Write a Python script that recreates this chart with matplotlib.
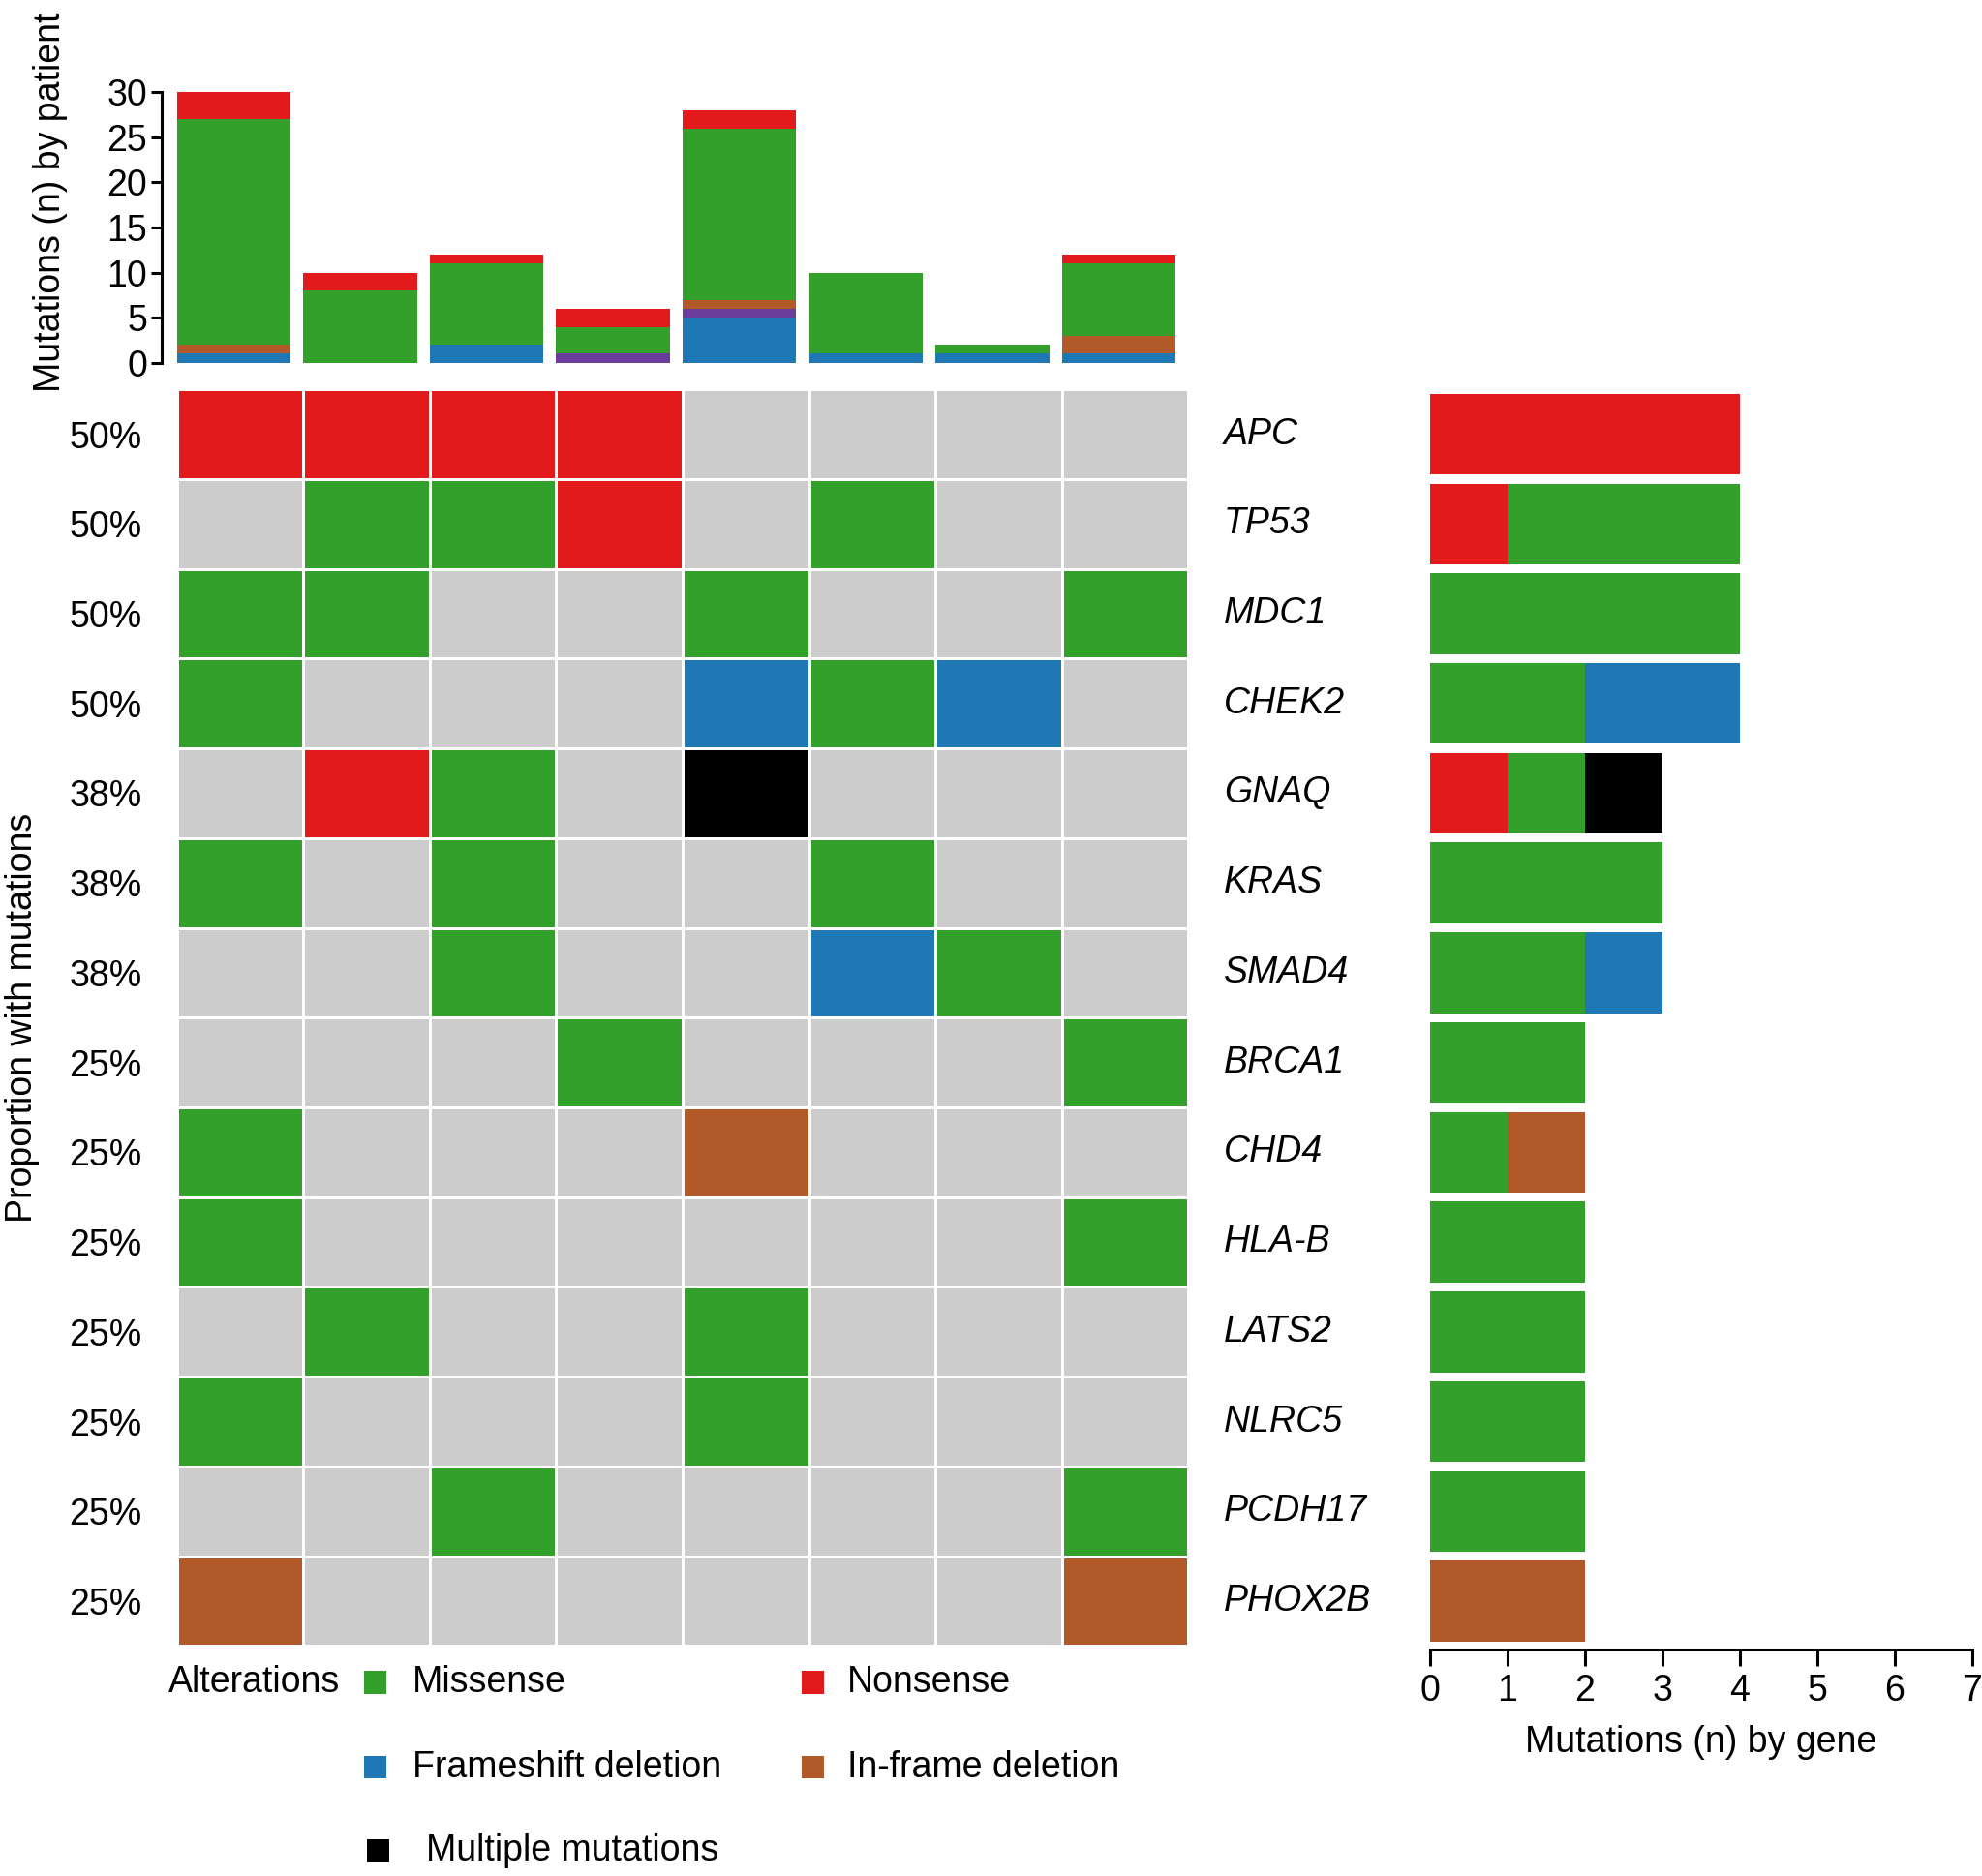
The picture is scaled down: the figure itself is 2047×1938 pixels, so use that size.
import matplotlib
matplotlib.use("Agg")
import matplotlib.pyplot as plt
import numpy as np
from matplotlib.colors import ListedColormap
from matplotlib.patches import Rectangle
import matplotlib.transforms as mtransforms

plt.rcParams['font.family'] = ['Liberation Sans', 'DejaVu Sans']
FS = 27

# ---------------- data ----------------
genes = ["APC", "TP53", "MDC1", "CHEK2", "GNAQ", "KRAS", "SMAD4", "BRCA1",
         "CHD4", "HLA-B", "LATS2", "NLRC5", "PCDH17", "PHOX2B"]
pct_labels = ["50%", "50%", "50%", "50%", "38%", "38%", "38%", "25%",
              "25%", "25%", "25%", "25%", "25%", "25%"]

# per-gene alteration per patient: M missense, N nonsense, F frameshift del,
# I in-frame del, X multiple mutations, '' none
grid = [
    ["N", "N", "N", "N", "", "", "", ""],      # APC
    ["", "M", "M", "N", "", "M", "", ""],      # TP53
    ["M", "M", "", "", "M", "", "", "M"],      # MDC1
    ["M", "", "", "", "F", "M", "F", ""],      # CHEK2
    ["", "N", "M", "", "X", "", "", ""],       # GNAQ
    ["M", "", "M", "", "", "M", "", ""],       # KRAS
    ["", "", "M", "", "", "F", "M", ""],       # SMAD4
    ["", "", "", "M", "", "", "", "M"],        # BRCA1
    ["M", "", "", "", "I", "", "", ""],        # CHD4
    ["M", "", "", "", "", "", "", "M"],        # HLA-B
    ["", "M", "", "", "M", "", "", ""],        # LATS2
    ["M", "", "", "", "M", "", "", ""],        # NLRC5
    ["", "", "M", "", "", "", "", "M"],        # PCDH17
    ["I", "", "", "", "", "", "", "I"],        # PHOX2B
]

# mutations per patient (stacked, bottom to top)
pat_frameshift = [1, 0, 2, 0, 5, 1, 1, 1]
pat_other      = [0, 0, 0, 1, 1, 0, 0, 0]
pat_inframe    = [1, 0, 0, 0, 1, 0, 0, 2]
pat_missense   = [25, 8, 9, 3, 19, 9, 1, 8]
pat_nonsense   = [3, 2, 1, 2, 2, 0, 0, 1]

# ---------------- style ----------------
C_MIS = "#33A02C"
C_NON = "#E31A1C"
C_FS = "#1F78B4"
C_IF = "#B15928"
C_MUL = "#000000"
C_OTH = "#6A3D9A"
C_BG = "#CCCCCC"

code = {"": 0, "M": 1, "N": 2, "F": 3, "I": 4, "X": 5}
cmap = ListedColormap([C_BG, C_MIS, C_NON, C_FS, C_IF, C_MUL])

W, H = 1568.0, 1484.0
def fx(x): return x / W
def fy(y): return 1 - y / H

fig = plt.figure(figsize=(20.47, 19.38), dpi=100)

# ---------------- top bar chart ----------------
axt = fig.add_axes([fx(140), fy(287), fx(940) - fx(140), fy(73) - fy(287)])
npat = len(pat_missense)
xs = np.arange(npat)
bottom = np.zeros(npat)
for vals, col in [(pat_frameshift, C_FS), (pat_other, C_OTH), (pat_inframe, C_IF),
                  (pat_missense, C_MIS), (pat_nonsense, C_NON)]:
    v = np.array(vals, dtype=float)
    axt.bar(xs, v, width=0.9, bottom=bottom, align='edge', color=col, linewidth=0)
    bottom += v
axt.set_xlim(0, npat)
axt.set_ylim(0, 30)
axt.set_yticks(range(0, 31, 5))
for s in ["top", "right", "bottom"]:
    axt.spines[s].set_visible(False)
axt.spines["left"].set_position(("outward", 11))
axt.spines["left"].set_linewidth(2.2)
axt.set_xticks([])
axt.tick_params(axis="y", labelsize=FS, length=8, width=2.2, pad=3)
fig.text(fx(40), fy(160), "Mutations (n) by patient", rotation=90, fontsize=FS,
         ha="center", va="center")

# ---------------- heatmap ----------------
axh = fig.add_axes([fx(140), fy(1302), fx(940) - fx(140), fy(308) - fy(1302)])
ngenes = len(genes)
Z = np.array([[code[c] for c in row] for row in grid])
axh.pcolormesh(np.arange(npat + 1), np.arange(ngenes + 1), Z, cmap=cmap,
               vmin=-0.5, vmax=5.5, edgecolors="white", linewidth=1.8)
axh.set_xlim(0, npat)
axh.set_ylim(ngenes, 0)
for s in axh.spines.values():
    s.set_visible(False)
axh.set_xticks([])
axh.set_yticks(np.arange(ngenes) + 0.5)
axh.set_yticklabels(pct_labels, fontsize=FS)
axh.tick_params(axis="y", length=0, pad=26)
trans = mtransforms.blended_transform_factory(axh.transAxes, axh.transData)
for i, g in enumerate(genes):
    axh.text(1.035, i + 0.5, g, transform=trans, fontsize=FS, style="italic",
             ha="left", va="center")
fig.text(fx(18), fy(805), "Proportion with mutations", rotation=90, fontsize=FS,
         ha="center", va="center")

# ---------------- right bar chart ----------------
axr = fig.add_axes([fx(1131), fy(1302), fx(1560) - fx(1131), fy(308) - fy(1302)])
order = [("N", C_NON), ("M", C_MIS), ("F", C_FS), ("I", C_IF), ("X", C_MUL)]
left = np.zeros(ngenes)
ys = np.arange(ngenes) + 0.5
for key, col in order:
    v = np.array([sum(1 for c in row if c == key) for row in grid], dtype=float)
    axr.barh(ys, v, height=0.9, left=left, color=col, linewidth=0)
    left += v
axr.set_xlim(0, 7)
axr.set_ylim(ngenes, 0)
for s in ["top", "right", "left"]:
    axr.spines[s].set_visible(False)
axr.spines["bottom"].set_position(("outward", 3))
axr.spines["bottom"].set_linewidth(2.2)
axr.set_yticks([])
axr.set_xticks(range(0, 8))
axr.tick_params(axis="x", labelsize=FS, length=12, width=2.2, pad=6)
axr.set_xlabel("Mutations (n) by gene", fontsize=FS, labelpad=12)

# ---------------- legend ----------------
fig.text(fx(133), fy(1331), "Alterations", fontsize=FS, ha="left", va="center")
sq_w, sq_h = 18 / W, 18 / H
legend_items = [
    (297, 1331, 326, "Missense", C_MIS),
    (643, 1331, 670, "Nonsense", C_NON),
    (297, 1398, 326, "Frameshift deletion", C_FS),
    (643, 1398, 670, "In-frame deletion", C_IF),
    (299, 1464, 337, "Multiple mutations", C_MUL),
]
for sx, sy, tx, label, col in legend_items:
    fig.add_artist(Rectangle((fx(sx) - sq_w / 2, fy(sy) - sq_h / 2), sq_w, sq_h,
                             transform=fig.transFigure, color=col, lw=0))
    fig.text(fx(tx), fy(sy), label, fontsize=FS, ha="left", va="center")

fig.savefig("out.png", dpi=100, facecolor="white")
